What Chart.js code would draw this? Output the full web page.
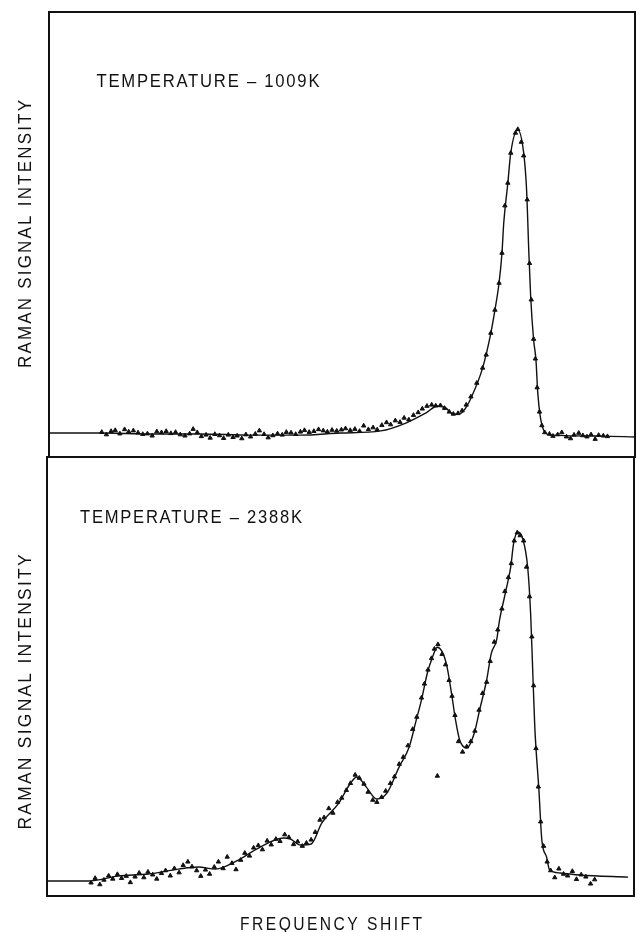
<!DOCTYPE html>
<html>
<head>
<meta charset="utf-8">
<script src="https://cdn.jsdelivr.net/npm/chart.js@4.4.1/dist/chart.umd.min.js"></script>
<style>
  html, body { margin: 0; padding: 0; background: #fff; }
  #wrap { position: relative; width: 637px; height: 932px; }
  canvas { position: absolute; left: 0; }
</style>
</head>
<body>
<div id="wrap">
  <canvas id="low" width="637" height="460" style="top:0"></canvas>
  <canvas id="high" width="637" height="477" style="top:455px"></canvas>
</div>
<script>
// frequency shift in arbitrary units (0..100), intensity in % of the main peak

// 1009 K : fitted curve
const lowFitX = [0, 8.7, 17.3, 25.8, 34.4, 42.9, 49.7, 56.6, 60.9, 64.3, 66.3, 67.7, 68.9, 70.3, 71.3, 72.1,
  74.0, 75.4, 76.1, 76.8, 77.3, 77.6, 78.3, 78.8, 80.0, 81.0, 81.5, 81.9, 82.2, 82.7, 83.1, 83.4, 83.8, 84.4,
  85.6, 94.2, 100];
const lowFitY = [0, 0, -0.3, -0.3, -0.7, -0.7, 0, 0.7, 3.3, 6.6, 8.9, 8.3, 6.3, 6.6, 8.9, 11.9,
  21.5, 33.0, 40.6, 49.5, 59.4, 69.3, 82.5, 92.4, 100, 92.4, 80.2, 58.7, 44.9, 30.7, 24.1, 13.5, 5.9, 1.0,
  -0.7, -1.0, -1.3];

// 1009 K : measured points
const lowObsX = [9.0, 9.8, 10.6, 11.3, 12.1, 12.9, 13.6, 14.4, 15.2, 16.0, 16.8, 17.6, 18.4, 19.2, 20.0, 20.8,
  21.6, 22.4, 23.2, 24.0, 24.6, 25.3, 26.0, 26.8, 27.5, 28.3, 29.1, 29.8, 30.6, 31.4, 32.1, 32.9, 33.6, 34.4,
  35.2, 35.9, 36.7, 37.4, 38.2, 39.0, 39.8, 40.5, 41.3, 42.1, 42.9, 43.6, 44.4, 45.2, 46.0, 46.8, 47.5, 48.3,
  49.1, 49.9, 50.6, 51.4, 52.2, 53.0, 53.7, 54.5, 55.3, 56.0, 56.8, 57.6, 58.3, 59.1, 59.9, 60.6, 61.4, 62.2,
  63.0, 63.7, 64.5, 65.3, 66.0, 66.8, 67.5, 68.3, 69.0, 69.8, 70.5, 71.2, 72.0,
  73.0, 74.0, 74.6, 75.4, 76.1, 76.8, 77.3, 77.8, 78.3, 78.8, 79.6, 80.0, 80.6, 81.0, 81.6, 82.0, 82.3, 82.7,
  83.0, 83.3, 83.7, 84.1, 84.6,
  85.4, 86.0, 86.8, 87.5, 88.3, 89.0, 89.6, 90.4, 91.1, 91.8, 92.5, 93.2, 93.8, 94.6, 95.3];
const lowObsY = [0.3, -0.5, 0.6, 0.9, -0.2, 1.2, 0.4, 0.8, 0.1, -0.4, -0.2, -0.9, 0.5, 0.2, 0.6, -0.1,
  0.3, -0.5, -0.9, -0.2, 1.3, 0.2, -1.1, -0.6, -1.6, -0.4, -0.8, -1.7, -0.6, -1.4, -0.9, -1.8, -0.5, -1.2,
  -0.3, 0.8, -0.4, -1.5, -0.8, -0.2, -0.6, 0.3, 0.1, -0.4, 0.4, 0.9, 0.3, 0.6, 1.2, 0.8, 0.4, 1.0,
  0.7, 1.1, 1.5, 0.9, 1.3, 0.6, 2.4, 1.2, 1.8, 1.1, 2.6, 3.5, 2.8, 4.1, 3.6, 5.0, 4.4, 5.9,
  6.8, 8.0, 8.9, 9.3, 9.0, 9.1, 8.2, 7.0, 6.3, 6.5, 7.4, 9.3, 12.0,
  16.5, 21.5, 25.8, 33.0, 40.6, 49.5, 59.4, 75.0, 82.5, 92.4, 99.0, 100.2, 96.0, 91.5, 77.0, 56.0, 44.0, 31.0,
  24.5, 15.0, 7.0, 2.5, 0.2,
  -0.3, -1.0, -0.5, 0.2, -1.2, -1.8, -0.6, 0.0, -0.8, -1.2, -0.5, -2.0, -0.7, -0.9, -1.1];

// 2388 K : fitted curve
const highFitX = [0, 7.0, 12.1, 17.3, 22.4, 25.8, 28.7, 32.6, 36.1, 40.3, 41.5, 43.2, 45.0, 46.8, 49.7, 51.5,
  52.8, 54.4, 56.2, 57.9, 60.0, 61.7, 62.9, 63.8, 64.8, 65.5, 66.5, 68.0, 68.9, 69.6, 70.3, 71.5, 72.8, 73.7,
  74.9, 75.7, 76.6, 77.1, 77.9, 78.5, 79.0, 79.5, 80.2, 81.0, 81.9, 82.4, 82.7, 83.1, 83.8, 84.3, 85.1, 85.6,
  87.4, 90.8, 99.0];
const highFitY = [0, 0, 1.4, 2.0, 3.4, 4.0, 3.4, 6.0, 9.5, 12.3, 12.0, 10.3, 10.6, 16.6, 22.3, 27.5,
  29.8, 26.9, 23.5, 25.2, 32.7, 38.4, 46.1, 51.9, 59.6, 63.3, 67.0, 62.5, 53.9, 46.1, 40.4, 38.1, 42.4, 49.0,
  57.6, 65.3, 69.1, 74.8, 81.1, 85.7, 90.0, 96.8, 100, 98.3, 89.7, 76.2, 62.5, 44.1, 26.1, 11.7, 6.9, 3.2,
  2.3, 1.7, 1.1];

// 2388 K : measured points
const highObsX = [7.5, 8.2, 9.0, 9.7, 10.5, 11.2, 12.0, 12.7, 13.5, 14.2, 15.0, 15.7, 16.5, 17.2, 18.0, 18.7,
  19.5, 20.2, 21.0, 21.7, 22.5, 23.2, 24.0, 24.7, 25.5, 26.2, 27.0, 27.7, 28.5, 29.2, 30.0, 30.7, 31.5, 32.2,
  33.0, 33.7, 34.5, 35.2, 36.0, 36.7, 37.5, 38.2, 39.0, 39.7, 40.5, 41.2, 42.0, 42.7, 43.5, 44.2, 45.0, 45.7,
  46.5, 47.2, 48.0, 48.7, 49.5, 50.2, 51.0, 51.7, 52.5, 53.2, 54.0, 54.7, 55.5, 56.2, 57.0, 57.7, 58.5, 59.2,
  60.0, 60.7, 61.5, 62.3, 63.0, 63.8, 64.3, 64.9, 65.5, 66.0, 66.6, 67.3, 67.9, 68.5, 69.0, 69.5, 70.1, 70.8,
  71.5, 72.2, 72.9, 73.6, 74.2, 74.9, 75.5, 76.2, 76.8, 77.5, 78.0, 78.6, 79.1, 79.6, 80.1, 80.6, 81.2, 81.7,
  82.2, 82.6, 82.9, 83.3, 83.7, 84.1, 84.6, 85.2, 85.8, 86.5, 87.2, 88.0, 88.7, 89.5, 90.2, 91.0, 91.8, 92.6,
  93.3, 66.5];
const highObsY = [-0.5, 0.8, -1.0, 0.3, 1.5, 0.6, 1.9, 0.8, 1.4, -0.4, 1.2, 2.3, 1.0, 2.6, 1.8, 0.6,
  2.2, 3.0, 1.5, 3.6, 2.4, 4.5, 5.5, 4.1, 3.0, 1.4, 3.2, 2.0, 4.0, 5.5, 3.6, 6.9, 5.1, 3.3,
  6.0, 8.0, 7.2, 9.5, 10.2, 9.0, 11.5, 10.4, 12.0, 11.4, 13.3, 12.5, 10.5, 11.3, 10.0, 10.9, 11.8, 14.0,
  17.5, 18.2, 20.8, 19.5, 22.6, 23.8, 26.0, 28.0, 30.4, 29.5, 27.8, 25.5, 23.2, 22.6, 24.0, 25.8, 28.0, 29.9,
  33.5, 35.5, 38.8, 43.5, 47.0, 52.5, 56.5, 60.5, 63.8, 66.5, 67.8, 65.0, 62.0, 57.5, 53.0, 47.5, 40.0, 37.0,
  38.5, 40.0, 43.0, 49.0, 53.8, 57.0, 63.0, 68.5, 72.0, 78.0, 83.0, 87.0, 91.0, 97.5, 99.8, 99.0, 97.5, 90.0,
  81.5, 70.0, 56.0, 38.0, 27.0, 17.0, 10.0, 5.5, 3.0, 1.0, 3.5, 2.0, 1.5, 2.8, 0.5, 1.8, 1.2, -0.8,
  0.4, 30.1];

const zip = (xs, ys) => xs.map((x, i) => ({ x, y: ys[i] }));

function drawFitted(ctx, l) {
  ctx.save();
  ctx.translate(l.x, l.y);
  if (l.rot) ctx.rotate(-Math.PI / 2);
  ctx.font = l.size + 'px "Liberation Sans", Arial, sans-serif';
  ctx.letterSpacing = l.sp + 'px';
  ctx.fillStyle = '#111';
  ctx.textAlign = 'left';
  ctx.textBaseline = 'alphabetic';
  const w = ctx.measureText(l.text).width - l.sp;
  ctx.scale(l.w / w, 1);
  ctx.fillText(l.text, -w / 2, 0);
  ctx.restore();
}

const framePlugin = {
  id: 'frame',
  afterDraw(chart, args, opts) {
    const { ctx, chartArea: a } = chart;
    ctx.save();
    ctx.strokeStyle = '#111';
    ctx.lineWidth = 2;
    ctx.strokeRect(a.left, a.top, a.right - a.left, a.bottom - a.top);
    ctx.restore();
    opts.labels.forEach(l => drawFitted(ctx, l));
  }
};

function makeChart(id, fit, obs, yMin, yMax, padding, labels) {
  return new Chart(document.getElementById(id), {
    type: 'scatter',
    data: {
      datasets: [
        {
          data: fit,
          showLine: true,
          borderColor: '#111',
          borderWidth: 1.4,
          cubicInterpolationMode: 'monotone',
          pointRadius: 0
        },
        {
          data: obs,
          showLine: false,
          pointStyle: 'triangle',
          pointRadius: 2.5,
          backgroundColor: '#111',
          borderColor: '#111',
          borderWidth: 1
        }
      ]
    },
    options: {
      responsive: false,
      animation: false,
      devicePixelRatio: 1,
      layout: { padding, autoPadding: false },
      scales: {
        x: { type: 'linear', min: 0, max: 100, display: false },
        y: { min: yMin, max: yMax, display: false }
      },
      plugins: {
        legend: { display: false },
        tooltip: { enabled: false },
        frame: { labels }
      }
    },
    plugins: [framePlugin]
  });
}

makeChart('low', zip(lowFitX, lowFitY), zip(lowObsX, lowObsY), -7.9, 138.9,
  { left: 49, right: 2, top: 12, bottom: 3 },
  [
    { text: 'TEMPERATURE – 1009K', x: 208, y: 87, w: 223, size: 19, sp: 2 },
    { text: 'RAMAN SIGNAL INTENSITY', x: 31, y: 234, w: 268, size: 19, sp: 2.5, rot: true }
  ]);

makeChart('high', zip(highFitX, highFitY), zip(highObsX, highObsY), -4.3, 121.5,
  { left: 47, right: 3, top: 2, bottom: 36 },
  [
    { text: 'TEMPERATURE – 2388K', x: 191, y: 68, w: 222, size: 19, sp: 2 },
    { text: 'RAMAN SIGNAL INTENSITY', x: 31, y: 237, w: 275, size: 19, sp: 2.5, rot: true },
    { text: 'FREQUENCY SHIFT', x: 331, y: 475, w: 182, size: 19, sp: 3 }
  ]);
</script>
</body>
</html>
